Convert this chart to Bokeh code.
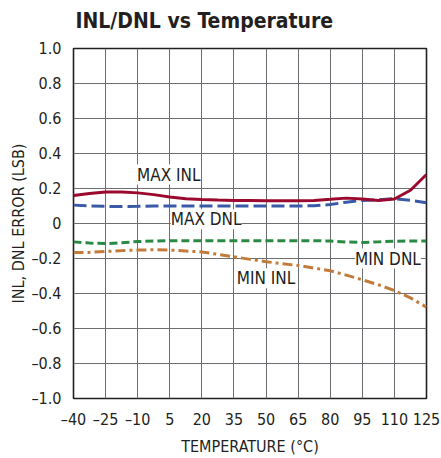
from bokeh.plotting import figure
from bokeh.models import ColumnDataSource, LabelSet, FixedTicker, Title
from bokeh.core.properties import value
from bokeh.embed import file_html
from bokeh.resources import INLINE

temps = [-40, -32.5, -25, -17.5, -10, -2.5, 5, 12.5, 20, 27.5, 35, 42.5, 50,
         57.5, 65, 72.5, 80, 87.5, 95, 102.5, 110, 117.5, 125]
max_inl = [0.16, 0.172, 0.18, 0.18, 0.175, 0.165, 0.152, 0.142, 0.137, 0.134, 0.132, 0.131, 0.13,
           0.13, 0.13, 0.132, 0.138, 0.145, 0.14, 0.132, 0.14, 0.19, 0.28]
max_dnl = [0.105, 0.1, 0.098, 0.097, 0.098, 0.1, 0.1, 0.1, 0.1, 0.1, 0.1, 0.1, 0.1,
           0.1, 0.1, 0.102, 0.108, 0.122, 0.132, 0.136, 0.142, 0.132, 0.118]
min_dnl = [-0.105, -0.112, -0.115, -0.11, -0.103, -0.1, -0.098, -0.098, -0.098, -0.098, -0.098, -0.098, -0.098,
           -0.098, -0.098, -0.098, -0.1, -0.106, -0.108, -0.105, -0.101, -0.1, -0.1]
min_inl = [-0.165, -0.165, -0.16, -0.155, -0.152, -0.15, -0.152, -0.157, -0.163, -0.176, -0.19, -0.205, -0.218,
           -0.23, -0.24, -0.255, -0.27, -0.295, -0.322, -0.35, -0.383, -0.425, -0.478]

x_ticks = [-40, -25, -10, 5, 20, 35, 50, 65, 80, 95, 110, 125]
y_ticks = [-1.0, -0.8, -0.6, -0.4, -0.2, 0, 0.2, 0.4, 0.6, 0.8, 1.0]
y_tick_labels = ["\u20131.0", "\u20130.8", "\u20130.6", "\u20130.4", "\u20130.2", "0",
                 "0.2", "0.4", "0.6", "0.8", "1.0"]

label_text = ["MAX INL", "MAX DNL", "MIN DNL", "MIN INL"]
label_x = [4.5, 22, 107, 50]
label_y = [0.28, 0.024, -0.2, -0.313]

FONT = "'DejaVu Sans Condensed', 'Roboto', sans-serif"
TXT = "#231f20"

p = figure(width=441, height=458, output_backend="svg", toolbar_location=None,
           x_range=(-40, 125), y_range=(-1, 1),
           min_border_left=73, min_border_right=15, min_border_bottom=52, min_border_top=48)

p.title.text = "INL/DNL vs Temperature"
p.title.text_font = FONT
p.title.text_font_style = "bold"
p.title.text_font_size = "21px"
p.title.text_color = TXT
p.title.offset = 2
p.title.vertical_align = "bottom"

spacer = Title(text=" ", text_font_size="8px", standoff=0)
p.add_layout(spacer, "above")

p.xaxis.ticker = FixedTicker(ticks=x_ticks)
p.xaxis.major_label_overrides = {t: (str(t).replace("-", "\u2013")) for t in x_ticks}
p.yaxis.ticker = FixedTicker(ticks=y_ticks)
p.yaxis.major_label_overrides = {t: l for t, l in zip(y_ticks, y_tick_labels)}
p.xaxis.axis_label = "TEMPERATURE (\u00b0C)"
p.yaxis.axis_label = "INL, DNL ERROR (LSB)"

for ax in (p.xaxis[0], p.yaxis[0]):
    ax.axis_label_text_font = FONT
    ax.axis_label_text_font_style = "normal"
    ax.axis_label_text_font_size = "16px"
    ax.axis_label_text_color = TXT
    ax.major_label_text_font = FONT
    ax.major_label_text_font_size = "16px"
    ax.major_label_text_color = TXT
    ax.major_tick_line_color = None
    ax.minor_tick_line_color = None
    ax.axis_line_color = None
p.xaxis.major_label_standoff = 5
p.xaxis.axis_label_standoff = 5
p.yaxis.major_label_standoff = 6
p.yaxis.axis_label_standoff = 0

p.xgrid.ticker = FixedTicker(ticks=x_ticks)
p.ygrid.ticker = FixedTicker(ticks=y_ticks)
for g in (p.xgrid[0], p.ygrid[0]):
    g.grid_line_color = "#6d6e71"
    g.grid_line_width = 1

p.outline_line_color = "#231f20"
p.outline_line_width = 1.6

src = ColumnDataSource(dict(t=temps, max_inl=max_inl, max_dnl=max_dnl,
                            min_dnl=min_dnl, min_inl=min_inl))

lsrc = ColumnDataSource(dict(x=label_x, y=label_y, text=label_text))
p.add_layout(LabelSet(x="x", y="y", text="text", source=lsrc, text_align="center",
                      text_baseline="middle", text_font=value(FONT), text_font_size=value("17px"),
                      text_color=TXT, background_fill_color="white"))

p.line("t", "min_inl", source=src, line_color="#c27b3a", line_width=3, line_dash="10 4 3 4")
p.line("t", "min_dnl", source=src, line_color="#2a8a45", line_width=3, line_dash="8 4")
p.line("t", "max_dnl", source=src, line_color="#3a5aa8", line_width=3, line_dash="13 5")
p.line("t", "max_inl", source=src, line_color="#9b0a2e", line_width=3)

open("out.html", "w").write(file_html(p, INLINE))
